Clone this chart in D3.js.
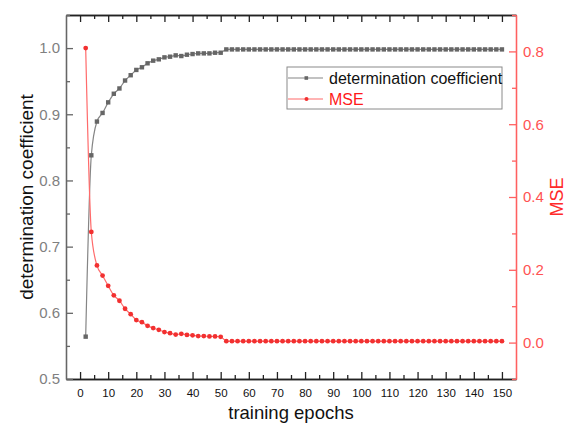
<!DOCTYPE html>
<html>
<head>
<meta charset="utf-8">
<script src="https://cdn.jsdelivr.net/npm/d3@7"></script>
<style>
  body { margin: 0; background: #fff; }
  svg { display: block; font-family: "Liberation Sans", Arial, sans-serif; }
</style>
</head>
<body>
<div id="chart"></div>
<script>
// training epochs (every 2nd epoch was logged)
var epochs = [2, 4, 6, 8, 10, 12, 14, 16, 18, 20, 22, 24, 26, 28, 30, 32, 34, 36, 38, 40,
  42, 44, 46, 48, 50, 52, 54, 56, 58, 60, 62, 64, 66, 68, 70, 72, 74, 76, 78, 80,
  82, 84, 86, 88, 90, 92, 94, 96, 98, 100, 102, 104, 106, 108, 110, 112, 114, 116, 118, 120,
  122, 124, 126, 128, 130, 132, 134, 136, 138, 140, 142, 144, 146, 148, 150];

// determination coefficient (R2), left axis
var r2 = [0.564, 0.838, 0.889, 0.902, 0.918, 0.931, 0.939, 0.951, 0.959, 0.967,
  0.971, 0.977, 0.981, 0.983, 0.986, 0.987, 0.989, 0.988, 0.990, 0.991,
  0.992, 0.992, 0.992, 0.993, 0.993, 0.998, 0.998, 0.998, 0.998, 0.998,
  0.998, 0.998, 0.998, 0.998, 0.998, 0.998, 0.998, 0.998, 0.998, 0.998,
  0.998, 0.998, 0.998, 0.998, 0.998, 0.998, 0.998, 0.998, 0.998, 0.998,
  0.998, 0.998, 0.998, 0.998, 0.998, 0.998, 0.998, 0.998, 0.998, 0.998,
  0.998, 0.998, 0.998, 0.998, 0.998, 0.998, 0.998, 0.998, 0.998, 0.998,
  0.998, 0.998, 0.998, 0.998, 0.998];

// mean squared error, right axis
var mse = [0.809, 0.304, 0.212, 0.184, 0.156, 0.130, 0.115, 0.093, 0.078, 0.062,
  0.056, 0.046, 0.040, 0.035, 0.029, 0.026, 0.022, 0.024, 0.021, 0.020,
  0.018, 0.018, 0.017, 0.017, 0.016, 0.004, 0.004, 0.004, 0.004, 0.004,
  0.004, 0.004, 0.004, 0.004, 0.004, 0.004, 0.004, 0.004, 0.004, 0.004,
  0.004, 0.004, 0.004, 0.004, 0.004, 0.004, 0.004, 0.004, 0.004, 0.004,
  0.004, 0.004, 0.004, 0.004, 0.004, 0.004, 0.004, 0.004, 0.004, 0.004,
  0.004, 0.004, 0.004, 0.004, 0.004, 0.004, 0.004, 0.004, 0.004, 0.004,
  0.004, 0.004, 0.004, 0.004, 0.004];

var xTicks = [0, 10, 20, 30, 40, 50, 60, 70, 80, 90, 100, 110, 120, 130, 140, 150];
var xMinor = [5, 15, 25, 35, 45, 55, 65, 75, 85, 95, 105, 115, 125, 135, 145];
var leftTicks = [0.5, 0.6, 0.7, 0.8, 0.9, 1.0];
var leftMinor = [0.55, 0.65, 0.75, 0.85, 0.95, 1.05];
var rightTicks = [0.0, 0.2, 0.4, 0.6, 0.8];
var rightMinor = [-0.1, 0.1, 0.3, 0.5, 0.7, 0.9];

var W = 568, H = 430;
var margin = {top: 15, right: 52, bottom: 51, left: 66},
    width = W - margin.left - margin.right,
    height = H - margin.top - margin.bottom;

var grayLine = "#858585", grayMark = "#666666";
var redLine = "#ff6b6b", redMark = "#f23030";

var svg = d3.select("#chart")
  .append("svg")
    .attr("width", W)
    .attr("height", H)
  .append("g")
    .attr("transform", `translate(${margin.left},${margin.top})`);

var x = d3.scaleLinear().domain([-5, 155]).range([0, width]);
var yL = d3.scaleLinear().domain([0.5, 1.05]).range([height, 0]);
var yR = d3.scaleLinear().domain([-0.1, 0.9]).range([height, 0]);

// axes, all ticks pointing inward
function styleAxis(g, color, labelColor, size) {
  g.select(".domain").attr("stroke", color).attr("stroke-width", 1.3);
  g.selectAll(".tick line").attr("stroke", color).attr("stroke-width", 1.3);
  g.selectAll("text").attr("fill", labelColor).style("font-size", size + "px");
}

var xAxisG = svg.append("g")
  .attr("transform", `translate(0,${height})`)
  .call(d3.axisBottom(x).tickValues(xTicks).tickSize(-7).tickPadding(10).tickSizeOuter(0));
styleAxis(xAxisG, "#222", "#111", 11.5);
var xMinorG = svg.append("g")
  .attr("transform", `translate(0,${height})`)
  .call(d3.axisBottom(x).tickValues(xMinor).tickSize(-4).tickFormat("").tickSizeOuter(0));
styleAxis(xMinorG, "#222", "#111", 11.5);

var topAxisG = svg.append("g")
  .call(d3.axisTop(x).tickValues(xTicks).tickSize(-7).tickFormat("").tickSizeOuter(0));
styleAxis(topAxisG, "#222", "#111", 11.5);
var topMinorG = svg.append("g")
  .call(d3.axisTop(x).tickValues(xMinor).tickSize(-4).tickFormat("").tickSizeOuter(0));
styleAxis(topMinorG, "#222", "#111", 11.5);

var leftAxisG = svg.append("g")
  .call(d3.axisLeft(yL).tickValues(leftTicks).tickSize(-7).tickPadding(6)
    .tickFormat(d3.format(".1f")).tickSizeOuter(0));
styleAxis(leftAxisG, "#666", "#808080", 15);
var leftMinorG = svg.append("g")
  .call(d3.axisLeft(yL).tickValues(leftMinor).tickSize(-4).tickFormat("").tickSizeOuter(0));
styleAxis(leftMinorG, "#666", "#808080", 15);

var rightAxisG = svg.append("g")
  .attr("transform", `translate(${width},0)`)
  .call(d3.axisRight(yR).tickValues(rightTicks).tickSize(-7).tickPadding(7)
    .tickFormat(d3.format(".1f")).tickSizeOuter(0));
styleAxis(rightAxisG, "#ff6060", "#ff5252", 15);
var rightMinorG = svg.append("g")
  .attr("transform", `translate(${width},0)`)
  .call(d3.axisRight(yR).tickValues(rightMinor).tickSize(-4).tickFormat("").tickSizeOuter(0));
styleAxis(rightMinorG, "#ff6060", "#ff5252", 15);

// axis titles
svg.append("text")
  .attr("transform", `translate(${33 - margin.left},${height / 2}) rotate(-90)`)
  .attr("text-anchor", "middle")
  .style("font-size", "19px")
  .attr("fill", "#111")
  .text("determination coefficient");

svg.append("text")
  .attr("transform", `translate(${563 - margin.left},${height / 2}) rotate(-90)`)
  .attr("text-anchor", "middle")
  .style("font-size", "18px")
  .attr("fill", "#ff2a2a")
  .text("MSE");

svg.append("text")
  .attr("x", width / 2)
  .attr("y", 419 - margin.top)
  .attr("text-anchor", "middle")
  .style("font-size", "18.5px")
  .attr("fill", "#111")
  .text("training epochs");

var r2Data = epochs.map((e, i) => ({e: e, v: r2[i]}));
var mseData = epochs.map((e, i) => ({e: e, v: mse[i]}));

// determination coefficient series
svg.append("path")
  .datum(r2Data)
  .attr("fill", "none")
  .attr("stroke", grayLine)
  .attr("stroke-width", 1.2)
  .attr("d", d3.line().x(d => x(d.e)).y(d => yL(d.v)).curve(d3.curveMonotoneX));
svg.selectAll(".sq")
  .data(r2Data)
  .join("rect")
    .attr("class", "sq")
    .attr("x", d => x(d.e) - 2.2)
    .attr("y", d => yL(d.v) - 2.2)
    .attr("width", 4.4)
    .attr("height", 4.4)
    .attr("fill", grayMark);

// MSE series
svg.append("path")
  .datum(mseData)
  .attr("fill", "none")
  .attr("stroke", redLine)
  .attr("stroke-width", 1.2)
  .attr("d", d3.line().x(d => x(d.e)).y(d => yR(d.v)).curve(d3.curveMonotoneX));
svg.selectAll(".dot")
  .data(mseData)
  .join("circle")
    .attr("class", "dot")
    .attr("cx", d => x(d.e))
    .attr("cy", d => yR(d.v))
    .attr("r", 2.4)
    .attr("fill", redMark);

// legend
var lg = svg.append("g").attr("transform", `translate(${287 - margin.left},${67 - margin.top})`);
lg.append("rect")
  .attr("width", 215).attr("height", 42)
  .attr("fill", "#fff").attr("stroke", "#8a8a8a").attr("stroke-width", 1);
var items = [
  {label: "determination coefficient", line: grayLine, mark: grayMark, txt: "#111", sq: true},
  {label: "MSE", line: redLine, mark: redMark, txt: "#ff1a1a", sq: false}
];
items.forEach(function(it, i) {
  var yy = 11 + i * 21;
  lg.append("line").attr("x1", 1).attr("x2", 36).attr("y1", yy).attr("y2", yy)
    .attr("stroke", it.line).attr("stroke-width", 1.2);
  if (it.sq) {
    lg.append("rect").attr("x", 17.5).attr("y", yy - 1.8).attr("width", 3.6).attr("height", 3.6)
      .attr("fill", it.mark);
  } else {
    lg.append("circle").attr("cx", 19.5).attr("cy", yy).attr("r", 2).attr("fill", it.mark);
  }
  lg.append("text").attr("x", 42).attr("y", yy).attr("dy", "0.35em")
    .style("font-size", "16px").attr("fill", it.txt).text(it.label);
});
</script>
</body>
</html>
